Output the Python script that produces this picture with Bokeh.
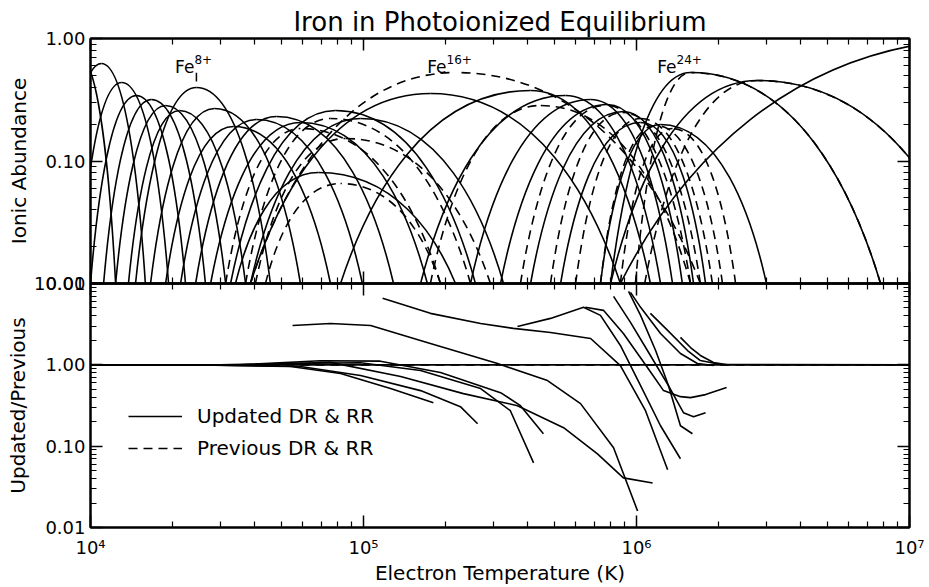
from bokeh.plotting import figure
from bokeh.models import (LogAxis, FixedTicker, CustomJSTickFormatter, Legend,
                          LegendItem, Range1d, ColumnDataSource)
from bokeh.layouts import column
from bokeh.embed import file_html
from bokeh.resources import INLINE

FONT = "DejaVu Sans"

# ---------------- data ----------------
# Top panel: each ion curve = log10 peak temperature, log10 peak abundance,
# and log10 temperatures where it falls to 0.01 on the low / high side.
solid_peak_logT = [3.956, 4.040, 4.114, 4.168, 4.223, 4.275, 4.326, 4.388, 4.454,
                   4.524, 4.608, 4.681, 4.769, 4.835, 4.897, 4.989, 5.245, 5.612,
                   5.740, 5.832, 5.894, 5.952, 6.015, 6.088, 6.198, 6.443, 7.300]
solid_peak_logA = [-0.139, -0.204, -0.359, -0.465, -0.498, -0.547, -0.588, -0.400, -0.571,
                   -0.718, -0.661, -0.637, -0.686, -1.094, -0.588, -0.653, -0.449, -0.424,
                   -0.465, -0.498, -0.539, -0.596, -0.686, -0.702, -0.278, -0.343, 0.000]
solid_left_logT = [3.799, 3.883, 3.956, 4.000, 4.048, 4.092, 4.139, 4.165, 4.220,
                   4.275, 4.330, 4.385, 4.440, 4.531, 4.513, 4.586, 4.586, 4.916,
                   5.209, 5.392, 5.502, 5.612, 5.722, 5.868, 5.905, 5.905, 5.941]
solid_right_logT = [4.092, 4.201, 4.286, 4.348, 4.421, 4.495, 4.568, 4.659, 4.769,
                    4.879, 4.996, 5.110, 5.234, 5.337, 5.410, 5.513, 5.941, 6.051,
                    6.088, 6.132, 6.168, 6.209, 6.253, 6.476, 6.894, 7.250, 8.700]

dashed_peak_logT = [4.769, 4.879, 4.934, 4.916, 5.337, 5.648, 5.886, 5.949, 6.015,
                    6.070, 6.132, 6.198, 6.443]
dashed_peak_logA = [-0.735, -0.653, -0.816, -1.184, -0.278, -0.547, -0.547, -0.604, -0.653,
                    -0.710, -0.735, -0.278, -0.343]
dashed_left_logT = [4.495, 4.568, 4.604, 4.641, 4.586, 5.245, 5.575, 5.685, 5.777,
                    5.868, 5.941, 5.996, 6.030]
dashed_right_logT = [5.282, 5.392, 5.465, 5.282, 6.234, 6.198, 6.198, 6.234, 6.278,
                     6.315, 6.363, 6.894, 7.250]

label_ions = ["8+", "16+", "24+"]

# Bottom panel: updated / previous ratio curves (log10 T, log10 ratio)
ratio_logT = [
    [4.000, 7.000],
    [4.000, 4.403, 4.733, 4.916, 5.099, 5.256],
    [4.000, 4.403, 4.769, 4.989, 5.209, 5.355, 5.418],
    [4.000, 4.476, 4.769, 4.989, 5.209, 5.429, 5.538, 5.623],
    [4.000, 4.549, 4.842, 5.062, 5.282, 5.502, 5.575, 5.659],
    [4.000, 4.623, 4.879, 5.136, 5.366, 5.564, 5.733, 5.857, 5.952, 6.059],
    [4.740, 4.879, 5.026, 5.245, 5.491, 5.674, 5.795, 5.916, 6.004],
    [5.070, 5.245, 5.429, 5.549, 5.685, 5.832, 5.941, 6.033, 6.114],
    [5.564, 5.685, 5.806, 5.868, 5.941, 6.015, 6.088, 6.161],
    [5.813, 5.879, 5.952, 6.040, 6.099, 6.161, 6.198, 6.253, 6.330],
    [5.916, 5.978, 6.051, 6.117, 6.172, 6.209, 6.253],
    [5.971, 6.015, 6.070, 6.117, 6.161, 6.205],
    [6.051, 6.114, 6.187, 6.234, 6.308, 7.000],
    [6.161, 6.198, 6.234, 6.282, 6.333],
    [5.978, 6.015, 6.088, 6.161, 6.223, 6.282],
]
ratio_logR = [
    [0.0, 0.0],
    [0.0, 0.0, -0.021, -0.107, -0.292, -0.465],
    [0.0, 0.0, -0.021, -0.132, -0.317, -0.514, -0.724],
    [0.0, 0.0, 0.020, 0.025, -0.070, -0.292, -0.564, -1.205],
    [0.0, 0.0, 0.050, 0.045, -0.095, -0.342, -0.502, -0.847],
    [0.0, 0.0, 0.030, -0.144, -0.354, -0.502, -0.773, -1.094, -1.390, -1.452],
    [0.484, 0.509, 0.484, 0.263, 0.016, -0.194, -0.477, -1.020, -1.797],
    [0.818, 0.633, 0.509, 0.448, 0.398, 0.324, -0.009, -0.564, -1.291],
    [0.472, 0.571, 0.707, 0.608, 0.238, -0.255, -0.749, -1.155],
    [0.707, 0.670, 0.386, -0.033, -0.317, -0.391, -0.403, -0.366, -0.280],
    [0.842, 0.522, 0.115, -0.255, -0.588, -0.638, -0.588],
    [0.904, 0.608, 0.176, -0.255, -0.749, -0.847],
    [0.633, 0.423, 0.176, 0.053, 0.004, 0.0],
    [0.337, 0.213, 0.115, 0.028, 0.0],
    [0.891, 0.707, 0.386, 0.139, 0.016, -0.009],
]

# ---------------- helpers ----------------
FLOOR = -2.0                            # feet were read at abundance 0.01
ALPHA, BETA, GAMMA = 0.15, 0.45, 0.55   # curve shape (bezier handles)


def bezier_source(peakT, peakA, leftT, rightT):
    cols = {k: [] for k in ("x0", "y0", "x1", "y1", "cx0", "cy0", "cx1", "cy1")}
    for t0, a0, tl, tr in zip(peakT, peakA, leftT, rightT):
        for tf in (tl, tr):
            d = t0 - tf
            cols["x0"].append(10 ** tf)
            cols["y0"].append(10 ** FLOOR)
            cols["x1"].append(10 ** t0)
            cols["y1"].append(10 ** a0)
            cols["cx0"].append(10 ** (tf + ALPHA * d))
            cols["cy0"].append(10 ** (FLOOR + BETA * (a0 - FLOOR)))
            cols["cx1"].append(10 ** (t0 - GAMMA * d))
            cols["cy1"].append(10 ** a0)
    return ColumnDataSource(cols)


def decade_minors(lo, hi):
    return [k * 10 ** e for e in range(lo, hi) for k in range(2, 10)]


x_major = [1e4, 1e5, 1e6, 1e7]
x_minor = decade_minors(4, 7)

blank = CustomJSTickFormatter(code="return '';")
fixed2 = CustomJSTickFormatter(code="return tick.toFixed(2);")
pow10 = CustomJSTickFormatter(code="""
const sup = {'0':'\u2070','1':'\u00b9','2':'\u00b2','3':'\u00b3','4':'\u2074',
             '5':'\u2075','6':'\u2076','7':'\u2077','8':'\u2078','9':'\u2079'};
const e = Math.round(Math.log10(tick));
return '10' + String(e).split('').map(c => sup[c]).join('');
""")


def style_axis(ax, show_labels):
    ax.major_tick_in = 12
    ax.major_tick_out = 0
    ax.minor_tick_in = 6
    ax.minor_tick_out = 0
    ax.axis_line_width = 2
    ax.axis_line_color = "black"
    ax.major_tick_line_width = 1.5
    ax.minor_tick_line_width = 1.2
    ax.major_tick_line_color = "black"
    ax.minor_tick_line_color = "black"
    ax.major_label_text_font = FONT
    ax.major_label_text_color = "black"
    ax.axis_label_text_font = FONT
    ax.axis_label_text_font_style = "normal"
    ax.axis_label_text_font_size = "20px"
    ax.axis_label_text_color = "black"
    if show_labels:
        ax.major_label_text_font_size = "18px"
    else:
        ax.formatter = blank
        ax.major_label_text_font_size = "0px"
        ax.major_label_standoff = 0


def make_fig(height, y_lo, y_hi, border_top, border_bottom, **kw):
    p = figure(width=929, height=height, x_axis_type="log", y_axis_type="log",
               x_range=Range1d(1e4, 1e7), y_range=Range1d(y_lo, y_hi),
               output_backend="svg", toolbar_location=None,
               min_border_left=90, min_border_right=20,
               min_border_top=border_top, min_border_bottom=border_bottom, **kw)
    p.xgrid.visible = False
    p.ygrid.visible = False
    p.outline_line_color = "black"
    p.outline_line_width = 2
    return p


# ---------------- top panel ----------------
top = make_fig(295, 0.01, 1.0, 38, 12, title="Iron in Photoionized Equilibrium")
top.title.text_font = FONT
top.title.text_font_size = "26px"
top.title.text_font_style = "normal"
top.title.text_color = "black"
top.title.align = "center"
top.title.standoff = 3

y_major_top = [0.01, 0.1, 1.0]
y_minor_top = decade_minors(-2, 0)

top.xaxis.ticker = FixedTicker(ticks=x_major, minor_ticks=x_minor)
style_axis(top.xaxis[0], False)
top.yaxis.ticker = FixedTicker(ticks=y_major_top, minor_ticks=y_minor_top)
top.yaxis.formatter = fixed2
top.yaxis.axis_label = "Ionic Abundance"
top.yaxis.axis_label_standoff = 11
top.yaxis.major_label_standoff = 5
style_axis(top.yaxis[0], True)

ax = LogAxis(ticker=FixedTicker(ticks=x_major, minor_ticks=x_minor))
style_axis(ax, False)
top.add_layout(ax, "above")
ax = LogAxis(ticker=FixedTicker(ticks=y_major_top, minor_ticks=y_minor_top))
style_axis(ax, False)
top.add_layout(ax, "right")

bez_kw = dict(x0="x0", y0="y0", x1="x1", y1="y1", cx0="cx0", cy0="cy0",
              cx1="cx1", cy1="cy1", line_color="black", line_width=1.6)
top.bezier(source=bezier_source(solid_peak_logT, solid_peak_logA,
                                solid_left_logT, solid_right_logT), **bez_kw)
top.bezier(source=bezier_source(dashed_peak_logT, dashed_peak_logA,
                                dashed_left_logT, dashed_right_logT),
           line_dash="9 6", **bez_kw)

# ion labels, anchored to the peaks of the labelled curves
label_T = [10 ** solid_peak_logT[7], 10 ** dashed_peak_logT[4], 10 ** solid_peak_logT[24]]
label_y = 10 ** -0.229
lab_src = ColumnDataSource(dict(x=label_T, y=[label_y] * 3, fe=["Fe"] * 3,
                                ion=label_ions, dx=[-2, -9, -14]))
top.text(x="x", y="y", text="fe", source=lab_src, text_align="right",
         text_baseline="alphabetic", x_offset="dx", text_font_size="17px",
         text_font={"value": FONT}, text_color="black")
top.text(x="x", y="y", text="ion", source=lab_src, text_align="left",
         text_baseline="alphabetic", x_offset="dx", y_offset=-7,
         text_font_size="12px", text_font={"value": FONT}, text_color="black")
fe8_A = 10 ** solid_peak_logA[7]
top.segment(x0=[label_T[0]], y0=[fe8_A * 10 ** 0.05], x1=[label_T[0]],
            y1=[fe8_A * 10 ** 0.12], line_color="black", line_width=1.5)

# ---------------- bottom panel ----------------
bot = make_fig(316, 0.01, 10.0, 12, 60, margin=(-24, 0, 0, 0),
               border_fill_alpha=0, background_fill_alpha=0)
y_major_bot = [0.01, 0.1, 1.0, 10.0]
y_minor_bot = decade_minors(-2, 1)

bot.xaxis.ticker = FixedTicker(ticks=x_major, minor_ticks=x_minor)
bot.xaxis.formatter = pow10
bot.xaxis.axis_label = "Electron Temperature (K)"
bot.xaxis.major_label_standoff = 9
bot.xaxis.axis_label_standoff = 0
style_axis(bot.xaxis[0], True)
bot.yaxis.ticker = FixedTicker(ticks=y_major_bot, minor_ticks=y_minor_bot)
bot.yaxis.formatter = fixed2
bot.yaxis.axis_label = "Updated/Previous"
bot.yaxis.axis_label_standoff = 1
bot.yaxis.major_label_standoff = 5
style_axis(bot.yaxis[0], True)

ax = LogAxis(ticker=FixedTicker(ticks=x_major, minor_ticks=x_minor))
style_axis(ax, False)
bot.add_layout(ax, "above")
ax = LogAxis(ticker=FixedTicker(ticks=y_major_bot, minor_ticks=y_minor_bot))
style_axis(ax, False)
bot.add_layout(ax, "right")

# legend proxies share the unchanged-ion data (ratio 1 everywhere)
flat_T = [10 ** v for v in ratio_logT[0]]
flat_R = [10 ** v for v in ratio_logR[0]]
r_dash = bot.line(flat_T, flat_R, line_color="black", line_width=1.6, line_dash="9 6")
r_solid = bot.line(flat_T, flat_R, line_color="black", line_width=1.6)

for lt, lr in zip(ratio_logT[1:], ratio_logR[1:]):
    bot.line([10 ** v for v in lt], [10 ** v for v in lr],
             line_color="black", line_width=1.6)

legend = Legend(items=[LegendItem(label="Updated DR & RR", renderers=[r_solid]),
                       LegendItem(label="Previous DR & RR", renderers=[r_dash])],
                location=(38, 67), border_line_color=None, background_fill_alpha=0,
                padding=0, margin=0, spacing=8, glyph_width=54, glyph_height=20,
                label_height=20, label_standoff=15, label_text_font=FONT,
                label_text_font_size="20px", label_text_color="black")
bot.add_layout(legend)

layout = column(top, bot)
with open("out.html", "w", encoding="utf-8") as f:
    f.write(file_html(layout, INLINE))
